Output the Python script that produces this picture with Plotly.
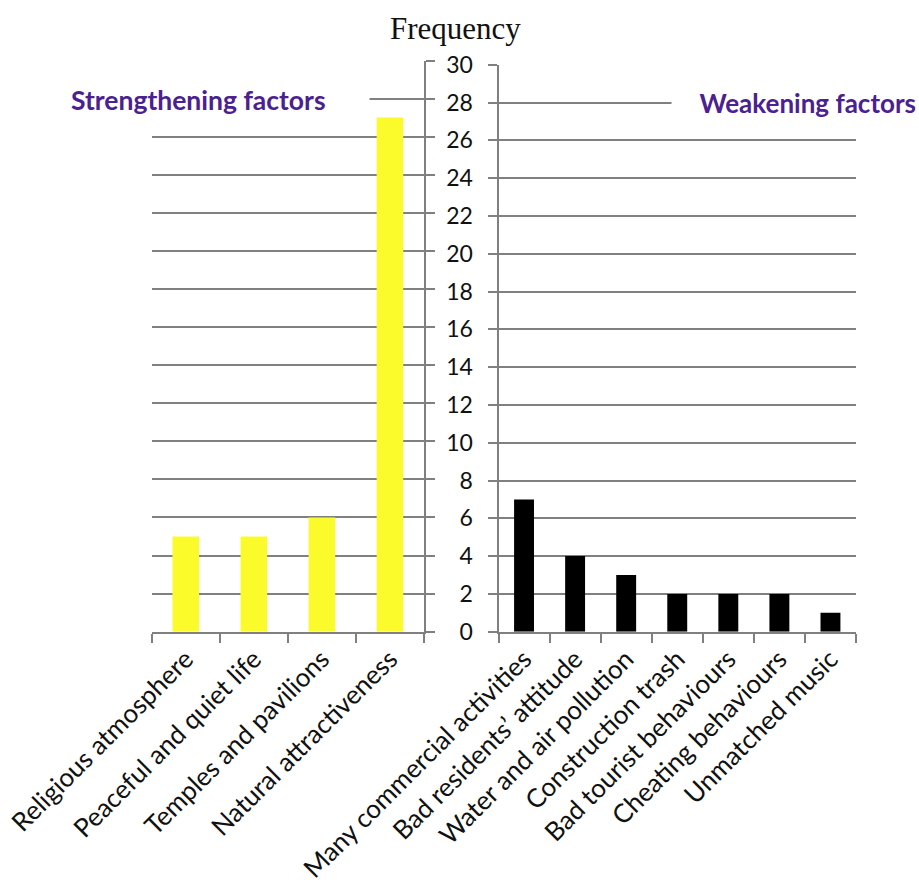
import plotly.graph_objects as go

# Survey frequencies: factors strengthening vs. weakening the destination image
strength_cats = ["Religious atmosphere", "Peaceful and quiet life",
                 "Temples and pavilions", "Natural attractiveness"]
strength_vals = [5, 5, 6, 27]

weak_cats = ["Many commercial activities", "Bad residents’ attitude",
             "Water and air pollution", "Construction trash",
             "Bad tourist behaviours", "Cheating behaviours", "Unmatched music"]
weak_vals = [7, 4, 3, 2, 2, 2, 1]

y_ticks = list(range(0, 31, 2))

W, H = 919, 883


def px(x):
    return x / W


def py(y):
    return 1 - y / H


GRID = "#808080"
LABEL_FONT = dict(family="Lato, Calibri, sans-serif", size=26, color="#111111")

fig = go.Figure()
fig.add_trace(go.Bar(x=strength_cats, y=strength_vals, marker_color="#fbfb2c",
                     marker_line_width=0, xaxis="x", yaxis="y", showlegend=False))
fig.add_trace(go.Bar(x=weak_cats, y=weak_vals, marker_color="#000000",
                     marker_line_width=0, xaxis="x2", yaxis="y2", showlegend=False))

common_x = dict(type="category", tickson="boundaries", ticks="outside", ticklen=9,
                tickcolor=GRID, tickwidth=2, showline=True, linecolor=GRID,
                linewidth=2, showgrid=False, tickangle=-45, tickfont=LABEL_FONT,
                zeroline=False, automargin=False)
common_y = dict(range=[0, 30], tickvals=y_ticks, showgrid=True, gridcolor=GRID,
                gridwidth=2, ticks="outside", ticklen=9, tickcolor=GRID,
                tickwidth=2, showline=True, linecolor=GRID, linewidth=2,
                zeroline=False, fixedrange=True, automargin=False)

fig.update_layout(
    width=W, height=H,
    margin=dict(l=0, r=0, t=0, b=0),
    paper_bgcolor="white", plot_bgcolor="white",
    bargap=0.61,
    xaxis=dict(domain=[px(151.7), px(424)], anchor="y", **common_x),
    xaxis2=dict(domain=[px(498.5), px(856)], anchor="y2", **common_x),
    yaxis=dict(domain=[py(631.7), py(60.5)], anchor="x", side="right",
               showticklabels=False, **common_y),
    yaxis2=dict(domain=[py(631.7), py(64.7)], anchor="x2", side="left",
                showticklabels=True, ticklabelstandoff=10,
                tickfont=dict(family="Lato, Calibri, sans-serif", size=23,
                              color="#111111"), **common_y),
    annotations=[
        dict(text="Frequency", xref="paper", yref="paper", x=px(455), y=py(28),
             xanchor="center", yanchor="middle", showarrow=False,
             font=dict(family="Liberation Serif, Times New Roman, serif",
                       size=31, color="#111111")),
        dict(text="<b>Strengthening factors</b>", xref="paper", yref="paper",
             x=px(68), y=py(100), xanchor="left", yanchor="middle",
             showarrow=False, align="left", width=296, bgcolor="white",
             borderpad=2,
             font=dict(family="Lato, Calibri, sans-serif", size=26.5,
                       color="#4b2090")),
        dict(text="<b>Weakening factors</b>", xref="paper", yref="paper",
             x=px(919), y=py(103), xanchor="right", yanchor="middle",
             showarrow=False, align="right", width=242, bgcolor="white",
             borderpad=2,
             font=dict(family="Lato, Calibri, sans-serif", size=26,
                       color="#4b2090")),
    ],
)

fig.write_html("out.html")
